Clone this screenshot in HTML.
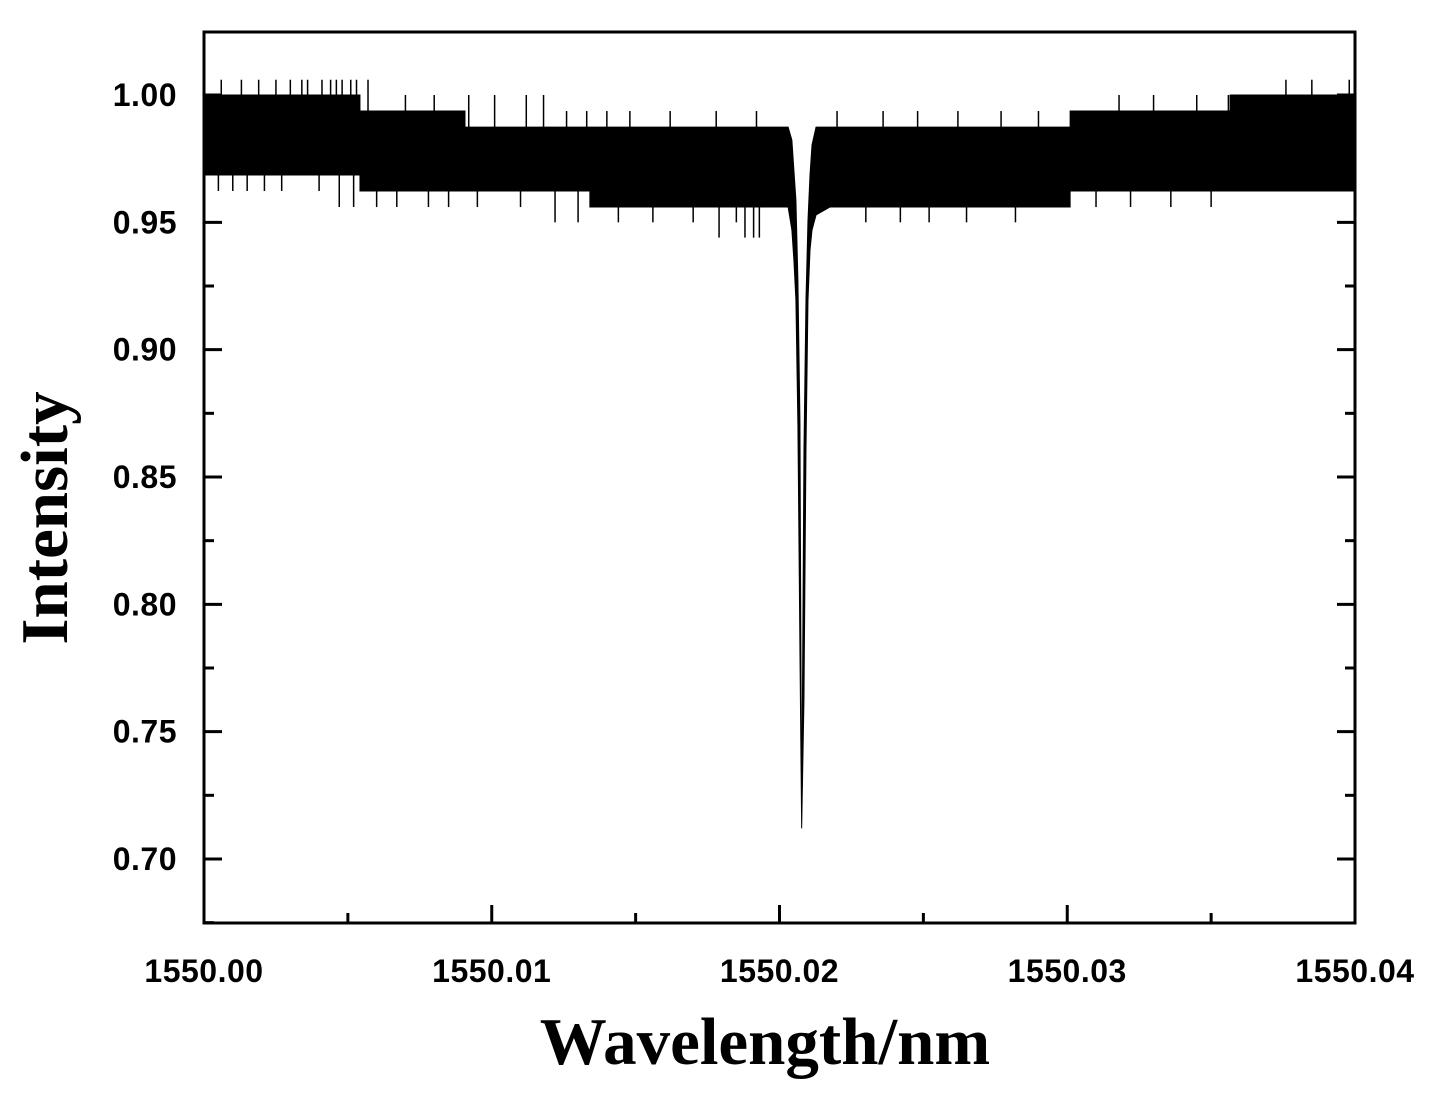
<!DOCTYPE html>
<html><head><meta charset="utf-8"><style>
body{margin:0;background:#fff;width:1440px;height:1095px;overflow:hidden}
svg{display:block}
.tl{font-family:"Liberation Sans",sans-serif;font-weight:bold;font-size:32px;letter-spacing:0.5px;fill:#000}
.at{font-family:"Liberation Serif",serif;font-weight:bold;font-size:67px;fill:#000}
</style></head><body>
<svg id="chart" width="1440" height="1095" xmlns="http://www.w3.org/2000/svg">
<g id="marks"></g>
<g id="axes"></g>
<text class="at" x="765" y="1064" text-anchor="middle">Wavelength/nm</text>
<text class="at" x="0" y="0" text-anchor="middle" transform="translate(67,518) rotate(-90)">Intensity</text>
</svg>
<script>
// data offsets from 1550 nm
const envW = [0,.00542,.00542,.00907,.00907,.0203,.02043,.0205,.02057,.02064,.02071,.02077,.02085,.02092,.02099,.02106,.02113,.02127,.0301,.0301,.03566,.03566,.04];
const envUpper = [1.0,1.0,.9937,.9937,.9874,.9874,.9823,.9705,.9588,.9273,.8723,.712,.8606,.9195,.9509,.9686,.9804,.9874,.9874,.9937,.9937,1.0,1.0];
const lowW = [0,.00542,.00542,.01341,.01341,.0203,.02043,.0205,.02057,.02064,.02071,.02077,.02085,.02092,.02099,.02106,.02113,.02127,.02175,.0301,.0301,.04];
const lowVals = [.9686,.9686,.9623,.9623,.956,.956,.947,.9352,.9195,.87,.782,.712,.7624,.8606,.9195,.9391,.947,.9529,.956,.956,.9623,.9623];
const spikeTopW = [.0006,.0013,.0019,.0025,.0030,.0034,.0036,.0041,.0044,.0046,.0048,.0051,.0053,.0057,.0070,.0080,.0092,.0101,.0112,.0118,.0126,.0133,.0140,.0148,.0162,.0178,.0192,.0220,.0236,.0248,.0262,.0277,.0290,.0305,.0318,.0330,.0345,.0356,.0366,.0376,.0385,.0392,.0398];
const spikeTopV = [1.006,1.006,1.006,1.006,1.006,1.006,1.006,1.006,1.006,1.006,1.006,1.006,1.006,1.006,1.0,1.0,1.0,1.0,1.0,1.0,.9937,.9937,.9937,.9937,.9937,.9937,.9937,.9937,.9937,.9937,.9937,.9937,.9937,.9937,1.0,1.0,1.0,1.0,1.0,1.006,1.006,1.0,1.006];
const spikeLowW = [.0005,.0010,.0015,.0021,.0027,.0040,.0047,.0052,.0060,.0067,.0078,.0085,.0095,.0110,.0122,.0130,.0144,.0156,.0170,.0179,.0185,.0188,.0191,.0193,.0230,.0242,.0252,.0265,.0282,.0300,.0310,.0322,.0336,.0350,.0360,.0372,.0384,.0396];
const spikeLowV = [.9623,.9623,.9623,.9623,.9623,.9623,.956,.956,.956,.956,.956,.956,.956,.956,.95,.95,.95,.95,.95,.944,.95,.944,.944,.944,.95,.95,.95,.95,.95,.956,.956,.956,.956,.956,.9623,.9623,.9623,.9623];
const yTicks = [0.70,0.75,0.80,0.85,0.90,0.95,1.00];
const yTickLabels = ["0.70","0.75","0.80","0.85","0.90","0.95","1.00"];
const xTicks = [0,0.01,0.02,0.03,0.04];
const xTickLabels = ["1550.00","1550.01","1550.02","1550.03","1550.04"];

const L=204,R=1355,T=32,B=923;
const xs=w=>L+(w/0.04)*(R-L);
const ys=v=>95+(1-v)/0.05*127.33;
const NS='http://www.w3.org/2000/svg';
const marks=document.getElementById('marks'), axes=document.getElementById('axes');
function mk(tag,attrs,parent){const e=document.createElementNS(NS,tag);for(const k in attrs)e.setAttribute(k,attrs[k]);parent.appendChild(e);return e;}

let pts=envW.map((w,i)=>xs(w)+','+ys(envUpper[i]));
for(let i=lowW.length-1;i>=0;i--)pts.push(xs(lowW[i])+','+ys(lowVals[i]));
const band=mk('polygon',{points:pts.join(' '),fill:'#000',stroke:'#000','stroke-width':1},marks);



function interp(W,V,w){for(let i=0;i<W.length-1;i++){if(w>=W[i]&&w<=W[i+1]){if(W[i+1]===W[i])return V[i+1];return V[i]+(V[i+1]-V[i])*(w-W[i])/(W[i+1]-W[i]);}}return V[V.length-1];}
spikeTopW.forEach((w,i)=>{
  const l=mk('line',{x1:xs(w),x2:xs(w),y1:ys(interp(envW,envUpper,w)),y2:ys(spikeTopV[i]),stroke:'#000','stroke-width':1.5},marks);
  
  
});
spikeLowW.forEach((w,i)=>{
  const l=mk('line',{x1:xs(w),x2:xs(w),y1:ys(interp(lowW,lowVals,w)),y2:ys(spikeLowV[i]),stroke:'#000','stroke-width':1.5},marks);
  
  
});

const frame=mk('rect',{x:L,y:T,width:R-L,height:B-T,fill:'none',stroke:'#000','stroke-width':3},axes);


yTicks.forEach((v,i)=>{
  const y=ys(v);
  mk('line',{x1:L,x2:L+18,y1:y,y2:y,stroke:'#000','stroke-width':3},axes);
  mk('line',{x1:R-18,x2:R,y1:y,y2:y,stroke:'#000','stroke-width':3},axes);
  if(i<yTicks.length-1){const ym=ys(v+0.025);
    mk('line',{x1:L,x2:L+10,y1:ym,y2:ym,stroke:'#000','stroke-width':3},axes);
    mk('line',{x1:R-10,x2:R,y1:ym,y2:ym,stroke:'#000','stroke-width':3},axes);}
  const t=mk('text',{x:177,y:y+11,'text-anchor':'end',class:'tl'},axes);t.textContent=yTickLabels[i];
  
  
});
{const ym=ys(0.675);mk('line',{x1:L,x2:L+10,y1:ym,y2:ym,stroke:'#000','stroke-width':3},axes);}
xTicks.forEach((w,i)=>{
  const x=xs(w);
  mk('line',{x1:x,x2:x,y1:B,y2:B-18,stroke:'#000','stroke-width':3},axes);
  if(i<xTicks.length-1){const xm=xs(w+0.005);mk('line',{x1:xm,x2:xm,y1:B,y2:B-10,stroke:'#000','stroke-width':3},axes);}
  const t=mk('text',{x:x,y:982,'text-anchor':'middle',class:'tl'},axes);t.textContent=xTickLabels[i];
  
  
});
</script>
</body></html>
